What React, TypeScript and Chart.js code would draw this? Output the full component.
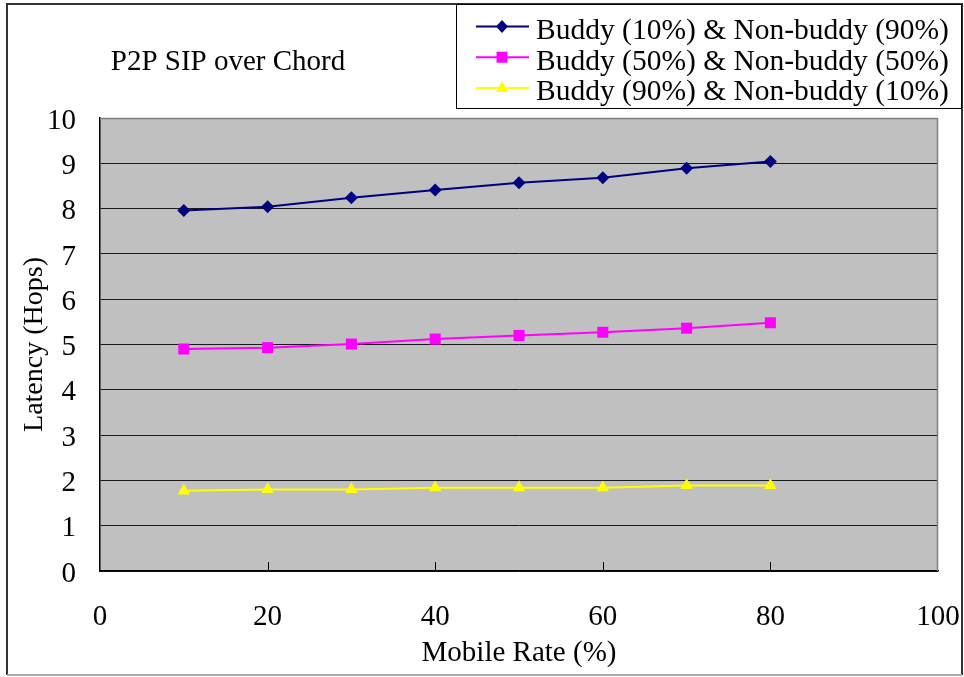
import React, { useEffect, useRef } from 'react';
import { Chart, registerables } from 'chart.js';

Chart.register(...registerables);

// ---- data ----
const mobileRates = [10, 20, 30, 40, 50, 60, 70, 80];
const buddy10 = [7.96, 8.04, 8.24, 8.41, 8.57, 8.68, 8.89, 9.04];
const buddy50 = [4.9, 4.93, 5.01, 5.12, 5.2, 5.27, 5.36, 5.48];
const buddy90 = [1.77, 1.8, 1.8, 1.84, 1.84, 1.84, 1.89, 1.89];
const seriesLabels = [
  'Buddy (10%) & Non-buddy (90%)',
  'Buddy (50%) & Non-buddy (50%)',
  'Buddy (90%) & Non-buddy (10%)',
];
const chartTitle = 'P2P SIP over Chord';
const xTitle = 'Mobile Rate (%)';
const yTitle = 'Latency (Hops)';

const FONT = "'Liberation Serif', 'Times New Roman', serif";

function drawMarker(ctx: CanvasRenderingContext2D, style: string, x: number, y: number, color: string) {
  ctx.save();
  ctx.fillStyle = color;
  ctx.beginPath();
  if (style === 'rectRot') {
    ctx.moveTo(x, y - 6.5);
    ctx.lineTo(x + 6, y);
    ctx.lineTo(x, y + 6.5);
    ctx.lineTo(x - 6, y);
  } else if (style === 'rect') {
    ctx.rect(x - 5.5, y - 5.5, 11, 11);
  } else {
    ctx.moveTo(x, y - 7);
    ctx.lineTo(x + 6.2, y + 4);
    ctx.lineTo(x - 6.2, y + 4);
  }
  ctx.closePath();
  ctx.fill();
  ctx.restore();
}

const decorPlugin = {
  id: 'decor',
  beforeDraw(chart: any) {
    const { ctx, chartArea } = chart;
    ctx.save();
    ctx.fillStyle = '#ffffff';
    ctx.fillRect(0, 0, chart.width, chart.height);
    ctx.fillStyle = '#c0c0c0';
    ctx.fillRect(chartArea.left, chartArea.top, chartArea.right - chartArea.left, chartArea.bottom - chartArea.top);
    ctx.restore();
  },
  beforeDatasetsDraw(chart: any) {
    const { ctx, chartArea } = chart;
    const xs = chart.scales.x;
    ctx.save();
    ctx.strokeStyle = '#808080';
    ctx.lineWidth = 1.5;
    ctx.beginPath();
    ctx.moveTo(chartArea.left, chartArea.top + 0.5);
    ctx.lineTo(chartArea.right - 0.5, chartArea.top + 0.5);
    ctx.lineTo(chartArea.right - 0.5, chartArea.bottom);
    ctx.stroke();
    ctx.strokeStyle = '#000';
    ctx.lineWidth = 1;
    xs.ticks.forEach((t: any) => {
      const px = Math.round(xs.getPixelForValue(t.value)) + 0.5;
      if (t.value <= 0 || t.value >= 100) return;
      ctx.beginPath();
      ctx.moveTo(px, chartArea.bottom);
      ctx.lineTo(px, chartArea.bottom - 9);
      ctx.stroke();
    });
    ctx.restore();
  },
  afterDraw(chart: any) {
    const { ctx } = chart;
    ctx.save();
    ctx.lineWidth = 2;
    ctx.strokeStyle = '#333';
    ctx.beginPath();
    ctx.moveTo(7, 675);
    ctx.lineTo(7, 4);
    ctx.lineTo(962, 4);
    ctx.lineTo(962, 675);
    ctx.stroke();
    ctx.strokeStyle = '#aaaaaa';
    ctx.beginPath();
    ctx.moveTo(7, 675);
    ctx.lineTo(962, 675);
    ctx.stroke();

    ctx.fillStyle = '#000';
    ctx.font = `29px ${FONT}`;
    ctx.textAlign = 'center';
    ctx.textBaseline = 'alphabetic';
    ctx.fillText(chartTitle, 228, 70);

    ctx.lineWidth = 1;
    ctx.strokeStyle = '#000';
    ctx.fillStyle = '#fff';
    ctx.fillRect(456, 4, 506, 104);
    ctx.strokeRect(456.5, 4.5, 505, 104);
    ctx.textAlign = 'left';
    ctx.font = `29.5px ${FONT}`;
    chart.data.datasets.forEach((ds: any, i: number) => {
      const base = 39 + i * 30.7;
      const my = base - 12.5;
      ctx.strokeStyle = ds.borderColor;
      ctx.lineWidth = 2;
      ctx.beginPath();
      ctx.moveTo(476, my);
      ctx.lineTo(529, my);
      ctx.stroke();
      drawMarker(ctx, ds.pointStyle, 502, my, ds.borderColor);
      ctx.fillStyle = '#000';
      ctx.fillText(ds.label, 536, base);
    });
    ctx.restore();
  },
};

export default function App() {
  const ref = useRef<HTMLCanvasElement | null>(null);

  useEffect(() => {
    document.body.style.margin = '0';
    document.body.style.overflow = 'hidden';
    const canvas = ref.current;
    if (!canvas) return;
    const mk = (vals: number[]) => mobileRates.map((x, i) => ({ x, y: vals[i] }));
    const chart = new Chart(canvas, {
      type: 'line',
      data: {
        datasets: [
          {
            label: seriesLabels[0],
            data: mk(buddy10),
            borderColor: '#000080',
            backgroundColor: '#000080',
            pointStyle: 'rectRot',
            pointRadius: 6.5,
            borderWidth: 2,
            pointBorderWidth: 0,
          },
          {
            label: seriesLabels[1],
            data: mk(buddy50),
            borderColor: '#ff00ff',
            backgroundColor: '#ff00ff',
            pointStyle: 'rect',
            pointRadius: 7.8,
            borderWidth: 2,
            pointBorderWidth: 0,
          },
          {
            label: seriesLabels[2],
            data: mk(buddy90),
            borderColor: '#ffff00',
            backgroundColor: '#ffff00',
            pointStyle: 'triangle',
            pointRadius: 7.2,
            borderWidth: 2,
            pointBorderWidth: 0,
          },
        ],
      },
      options: {
        animation: false,
        responsive: false,
        events: [],
        layout: { padding: { top: 118, right: 26, left: 0, bottom: 0 } },
        plugins: {
          legend: { display: false },
          title: { display: false },
          tooltip: { enabled: false },
        },
        scales: {
          x: {
            type: 'linear',
            min: 0,
            max: 100,
            afterFit: (s: any) => {
              s.height = 106;
              s.paddingRight = 0;
              s.paddingLeft = 0;
            },
            ticks: {
              stepSize: 20,
              padding: 29,
              color: '#000',
              font: { family: FONT, size: 29 },
            },
            grid: { drawOnChartArea: false, drawTicks: false },
            border: { color: '#000', width: 1.5 },
            title: {
              display: true,
              text: xTitle,
              color: '#000',
              font: { family: FONT, size: 29 },
              padding: { top: 6, bottom: 6 },
            },
          },
          y: {
            type: 'linear',
            min: 0,
            max: 10,
            afterFit: (s: any) => {
              s.width = 100;
              s.paddingTop = 0;
              s.paddingBottom = 0;
            },
            ticks: {
              stepSize: 1,
              padding: 24,
              labelOffset: 3,
              color: '#000',
              font: { family: FONT, size: 29 },
            },
            grid: {
              drawTicks: false,
              color: (c: any) => (c.tick && c.tick.value === 10 ? 'rgba(0,0,0,0)' : '#1a1a1a'),
              lineWidth: 1,
            },
            border: { color: '#000', width: 1.5 },
            title: {
              display: true,
              text: yTitle,
              color: '#000',
              font: { family: FONT, size: 28 },
              padding: { top: 18, bottom: 18 },
            },
          },
        },
      },
      plugins: [decorPlugin],
    } as any);
    return () => chart.destroy();
  }, []);

  return <canvas ref={ref} width={964} height={677} style={{ display: 'block' }} />;
}
